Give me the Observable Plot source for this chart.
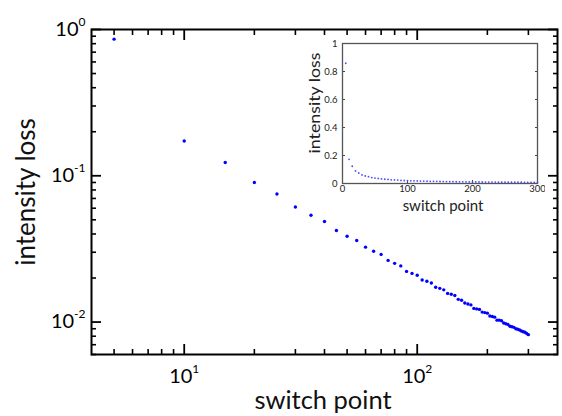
<!DOCTYPE html>
<html>
<head>
<meta charset="utf-8">
<script src="https://cdn.jsdelivr.net/npm/d3@7"></script>
<script src="https://cdn.jsdelivr.net/npm/@observablehq/plot@0.6"></script>
<style>
  html, body { margin: 0; padding: 0; background: #fff; }
  #wrap { position: relative; width: 562px; height: 416px; overflow: hidden; }
  #inset { position: absolute; left: 290px; top: 36px; }
  #main { position: absolute; left: 0; top: 0; }
</style>
</head>
<body>
<div id="wrap"><div id="main"></div><div id="inset"></div></div>
<script>
// Data
const switchPoint = [5, 10, 15, 20, 25, 30, 35, 40, 45, 50, 55, 60, 65, 70, 75, 80, 85, 90, 95, 100,
  105, 110, 115, 120, 125, 130, 135, 140, 145, 150, 155, 160, 165, 170, 175, 180, 185, 190, 195, 200,
  205, 210, 215, 220, 225, 230, 235, 240, 245, 250, 255, 260, 265, 270, 275, 280, 285, 290, 295, 300];
const intensityLoss = [0.859, 0.1728, 0.1231, 0.0899, 0.0751, 0.0612, 0.0537, 0.0487, 0.0423, 0.0386,
  0.0361, 0.0325, 0.0305, 0.0290, 0.0264, 0.0252, 0.0242, 0.0222, 0.0215, 0.0209,
  0.0194, 0.0190, 0.0185, 0.0173, 0.0170, 0.0166, 0.0157, 0.0155, 0.0152, 0.0143,
  0.0141, 0.0135, 0.0133, 0.0131, 0.0124, 0.0123, 0.0122, 0.0117, 0.0116, 0.0115,
  0.0110, 0.0109, 0.0108, 0.0103, 0.0103, 0.0102, 0.00984, 0.00974, 0.00964, 0.00935,
  0.00929, 0.00920, 0.00900, 0.00892, 0.00882, 0.00868, 0.00859, 0.00851, 0.00835, 0.00820];

const xMajor = [10, 100];
const xMinor = [5, 6, 7, 8, 9, 20, 30, 40, 50, 60, 70, 80, 90, 200, 300];
const yMajor = [1, 0.1, 0.01];
const yMinor = [0.9, 0.8, 0.7, 0.6, 0.5, 0.4, 0.3, 0.2, 0.09, 0.08, 0.07, 0.06, 0.05, 0.04, 0.03, 0.02, 0.009, 0.008, 0.007, 0.006];

const insetXTicks = [0, 100, 200, 300];
const insetYTicks = [0, 0.2, 0.4, 0.6, 0.8, 1];

const xLabel = "switch point";
const yLabel = "intensity loss";

const data = switchPoint.map((x, i) => ({x, y: intensityLoss[i]}));
const expFmt = d => "10^" + Math.round(Math.log10(d));

const main = Plot.plot({
  width: 562, height: 416,
  marginLeft: 91, marginRight: 5, marginTop: 29, marginBottom: 62,
  style: {fontFamily: "Lato, 'Open Sans', sans-serif", fontSize: "20px", color: "black", background: "transparent"},
  x: {type: "log", domain: [4, 400], label: null},
  y: {type: "log", domain: [0.006, 1], label: null},
  marks: [
    Plot.axisX(xMajor, {anchor: "bottom", tickSize: -10, fill: "none", strokeWidth: 1.8, label: null}),
    Plot.axisX(xMinor, {anchor: "bottom", tickSize: -5, fill: "none", strokeWidth: 1.6, label: null}),
    Plot.axisX(xMajor, {anchor: "top", tickSize: -10, fill: "none", strokeWidth: 1.8, label: null}),
    Plot.axisX(xMinor, {anchor: "top", tickSize: -5, fill: "none", strokeWidth: 1.6, label: null}),
    Plot.axisX(xMajor, {anchor: "bottom", tickSize: 0, tickPadding: 14, tickFormat: expFmt, fontSize: 20, label: null}),
    Plot.axisY(yMajor, {anchor: "left", tickSize: -10, fill: "none", strokeWidth: 1.8, label: null}),
    Plot.axisY(yMinor, {anchor: "left", tickSize: -5, fill: "none", strokeWidth: 1.6, label: null}),
    Plot.axisY(yMajor, {anchor: "right", tickSize: -10, fill: "none", strokeWidth: 1.8, label: null}),
    Plot.axisY(yMinor, {anchor: "right", tickSize: -5, fill: "none", strokeWidth: 1.6, label: null}),
    Plot.axisY(yMajor, {anchor: "left", tickSize: 0, tickPadding: 6, tickFormat: expFmt, fontSize: 20, label: null}),
    Plot.frame({stroke: "black", strokeWidth: 2}),
    Plot.dot(data, {x: "x", y: "y", r: 1.7, fill: "#0000ff", stroke: null}),
    Plot.text([xLabel], {frameAnchor: "bottom", textAnchor: "middle", lineAnchor: "middle", dy: 46.5, dx: -1.5, fontSize: 25.5, fill: "#111"}),
    Plot.text([yLabel], {frameAnchor: "left", textAnchor: "middle", lineAnchor: "middle", dx: -65, rotate: -90, fontSize: 26, fill: "#111"})
  ]
});

const inset = Plot.plot({
  width: 255, height: 184,
  marginLeft: 52, marginRight: 8, marginTop: 7, marginBottom: 37,
  style: {fontFamily: "Lato, 'Open Sans', sans-serif", fontSize: "10px", color: "#222", background: "transparent"},
  x: {domain: [0, 300], label: null},
  y: {domain: [0, 1], label: null},
  marks: [
    Plot.axisX(insetXTicks, {anchor: "bottom", tickSize: -3, fill: "none", stroke: "#444", label: null}),
    Plot.axisX(insetXTicks, {anchor: "bottom", tickSize: 0, tickPadding: 2, fontSize: 9.5, label: null}),
    Plot.axisY(insetYTicks, {anchor: "left", tickSize: -3, fill: "none", stroke: "#444", label: null}),
    Plot.axisY(insetYTicks, {anchor: "right", tickSize: -3, fill: "none", stroke: "#444", label: null}),
    Plot.axisY(insetYTicks, {anchor: "left", tickSize: 0, tickPadding: 5, fontSize: 9.5, label: null,
      tickFormat: d => d === 0 ? "0" : d === 1 ? "1" : d.toFixed(1)}),
    Plot.frame({stroke: "#555", strokeWidth: 1.3}),
    Plot.dot(data, {x: "x", y: "y", r: 0.9, fill: "#4d4dff", stroke: null}),
    Plot.text([xLabel], {frameAnchor: "bottom", textAnchor: "middle", lineAnchor: "middle", dy: 23, dx: 3, fontSize: 15, fill: "#222"}),
    Plot.text([yLabel], {frameAnchor: "left", textAnchor: "middle", lineAnchor: "middle", dx: -27.5, dy: -10.5, rotate: -90, fontSize: 15, fill: "#222"})
  ]
});

// superscript exponents in log tick labels
const NS = "http://www.w3.org/2000/svg";
main.querySelectorAll("text").forEach(t => {
  const m = (t.textContent || "").match(/^10\^(.+)$/);
  if (!m) return;
  t.textContent = "";
  const a = document.createElementNS(NS, "tspan");
  a.textContent = "10";
  const b = document.createElementNS(NS, "tspan");
  b.textContent = m[1];
  b.setAttribute("dy", "-10");
  b.setAttribute("font-size", "12");
  t.append(a, b);
});
// inset y label is stretched along its length in the reference
inset.querySelectorAll("text").forEach(t => {
  if (t.textContent === yLabel) {
    t.setAttribute("textLength", "101");
    t.setAttribute("lengthAdjust", "spacingAndGlyphs");
  }
});

document.getElementById("main").append(main);
document.getElementById("inset").append(inset);
</script>
</body>
</html>
